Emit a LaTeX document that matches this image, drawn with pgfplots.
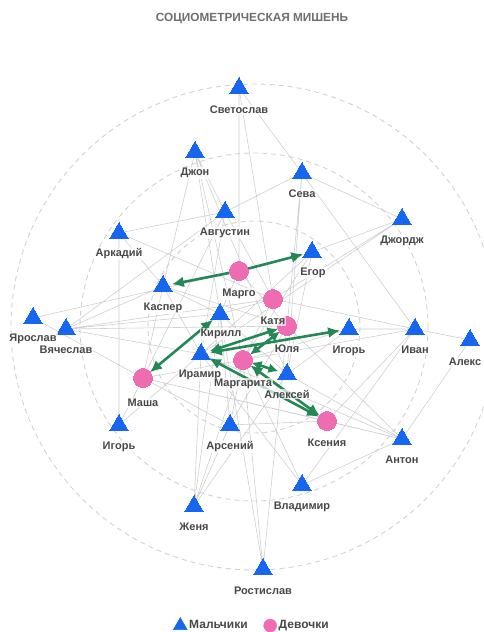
\documentclass[border=0pt]{standalone}
\usepackage{fontspec}
\setmainfont{Liberation Sans}
\usepackage{pgfplots}
\pgfplotsset{compat=1.18}
\usetikzlibrary{arrows.meta}
\definecolor{boyblue}{RGB}{22,102,240}
\definecolor{girlpink}{RGB}{240,108,178}
\definecolor{linkgreen}{RGB}{36,135,86}
\definecolor{edgegray}{RGB}{208,208,208}
\definecolor{ringgray}{RGB}{210,210,210}
\definecolor{labelgray}{RGB}{72,72,72}
\definecolor{titlegray}{RGB}{110,110,110}
\begin{document}
\begin{tikzpicture}
\begin{axis}[
  scale only axis, width=484pt, height=632pt,
  xmin=0, xmax=484, ymin=0, ymax=632, y dir=reverse,
  axis lines=none, xtick=\empty, ytick=\empty, clip=true,
  legend columns=2,
  legend style={at={(axis cs:252,625)}, anchor=center, draw=none, fill=none,
    font=\fontsize{12}{13}\selectfont\bfseries, text=labelgray,
    /tikz/every even column/.append style={column sep=14pt}},
  legend cell align=left,
]
% dashed rings
\draw[ringgray, line width=0.9pt, dash pattern=on 5pt off 4pt] (axis cs:254,327) circle[radius=243];
\draw[ringgray, line width=0.9pt, dash pattern=on 5pt off 4pt] (axis cs:254,327) circle[radius=174];
\draw[ringgray, line width=0.9pt, dash pattern=on 5pt off 4pt] (axis cs:254,327) circle[radius=106];
% gray links
\addplot[edgegray, line width=0.6pt, unbounded coords=jump, forget plot] coordinates {
(239,88) (302,173) (nan,nan)
(239,88) (239,271) (nan,nan)
(239,88) (273,299) (nan,nan)
(195,152) (163,286) (nan,nan)
(195,152) (220,314) (nan,nan)
(195,152) (243,360) (nan,nan)
(195,152) (287,374) (nan,nan)
(302,173) (402,219) (nan,nan)
(302,173) (225,212) (nan,nan)
(302,173) (287,326) (nan,nan)
(302,173) (287,374) (nan,nan)
(302,173) (415,329) (nan,nan)
(225,212) (119,233) (nan,nan)
(225,212) (273,299) (nan,nan)
(225,212) (201,354) (nan,nan)
(225,212) (143,378) (nan,nan)
(402,219) (312,252) (nan,nan)
(402,219) (201,354) (nan,nan)
(402,219) (273,299) (nan,nan)
(119,233) (119,425) (nan,nan)
(119,233) (163,286) (nan,nan)
(119,233) (273,299) (nan,nan)
(33,318) (239,271) (nan,nan)
(33,318) (143,378) (nan,nan)
(66,329) (225,212) (nan,nan)
(66,329) (163,286) (nan,nan)
(66,329) (220,314) (nan,nan)
(66,329) (287,326) (nan,nan)
(66,329) (201,354) (nan,nan)
(66,329) (273,299) (nan,nan)
(119,425) (143,378) (nan,nan)
(119,425) (201,354) (nan,nan)
(143,378) (327,421) (nan,nan)
(143,378) (402,439) (nan,nan)
(143,378) (230,425) (nan,nan)
(230,425) (327,421) (nan,nan)
(230,425) (220,314) (nan,nan)
(230,425) (243,360) (nan,nan)
(230,425) (287,326) (nan,nan)
(194,506) (201,354) (nan,nan)
(194,506) (220,314) (nan,nan)
(194,506) (230,425) (nan,nan)
(194,506) (287,374) (nan,nan)
(194,506) (243,360) (nan,nan)
(263,569) (220,314) (nan,nan)
(263,569) (243,360) (nan,nan)
(263,569) (287,326) (nan,nan)
(302,485) (402,439) (nan,nan)
(302,485) (415,329) (nan,nan)
(302,485) (243,360) (nan,nan)
(302,485) (201,354) (nan,nan)
(402,439) (470,340) (nan,nan)
(402,439) (287,374) (nan,nan)
(402,439) (287,326) (nan,nan)
(402,439) (201,354) (nan,nan)
(415,329) (327,421) (nan,nan)
(415,329) (243,360) (nan,nan)
(349,329) (415,329) (nan,nan)
(415,329) (470,340) (nan,nan)
(273,299) (415,329) (nan,nan)
(163,286) (220,314) (nan,nan)
(163,286) (287,326) (nan,nan)
(163,286) (201,354) (nan,nan)
(239,271) (220,314) (nan,nan)
(273,299) (220,314) (nan,nan)
(312,252) (243,360) (nan,nan)
(312,252) (201,354) (nan,nan)
(312,252) (287,374) (nan,nan)
(239,271) (287,326) (nan,nan)
(273,299) (243,360) (nan,nan)
(349,329) (243,360) (nan,nan)
(349,329) (287,374) (nan,nan)
(220,314) (287,374) (nan,nan)
(195,152) (225,212) (nan,nan)
(327,421) (402,439) (nan,nan)
(143,378) (243,360) (nan,nan)
(163,286) (143,378)
};
% mutual choices (green arrows)
\pgfplotsset{gl/.style={linkgreen, line width=2.6pt, forget plot, shorten >=9pt, shorten <=9pt}}
\addplot[gl, -{Latex[length=12pt,width=11pt]}] coordinates {(239,271) (163,286)};
\addplot[gl, -{Latex[length=12pt,width=11pt]}] coordinates {(239,271) (312,252)};
\addplot[gl, {Latex[length=12pt,width=11pt]}-{Latex[length=12pt,width=11pt]}] coordinates {(220,314) (143,378)};
\addplot[gl, {Latex[length=11pt,width=10pt]}-{Latex[length=11pt,width=10pt]}] coordinates {(201,354) (287,326)};
\addplot[gl, {Latex[length=12pt,width=11pt]}-{Latex[length=12pt,width=11pt]}] coordinates {(201,354) (349,329)};
\addplot[gl, {Latex[length=10pt,width=10pt]}-{Latex[length=10pt,width=10pt]}] coordinates {(243,360) (287,326)};
\addplot[gl, {Latex[length=10pt,width=10pt]}-{Latex[length=10pt,width=10pt]}] coordinates {(243,360) (287,374)};
\addplot[gl, {Latex[length=12pt,width=11pt]}-{Latex[length=12pt,width=11pt]}] coordinates {(243,360) (327,421)};
\addplot[gl, {Latex[length=12pt,width=11pt]}-{Latex[length=12pt,width=11pt]}] coordinates {(201,354) (327,421)};
% boys
\addplot[only marks, mark=triangle*, mark size=10.5pt, forget plot,
  mark options={draw=boyblue, fill=boyblue, line width=0pt}] table {
x y
239 88
195 152
302 173
225 212
119 233
402 219
312 252
163 286
220 314
349 329
415 329
470 340
33 318
66 329
201 354
287 374
119 425
230 425
402 439
302 485
194 506
263 569
};
% girls
\addplot[only marks, mark=*, mark size=9.5pt, forget plot,
  mark options={draw=girlpink, fill=girlpink, line width=0pt}] table {
x y
239 271
273 299
287 326
243 360
143 378
327 421
};
% labels
\addplot[draw=none, mark=none, forget plot, nodes near coords, point meta=explicit symbolic,
  nodes near coords style={anchor=center, font=\fontsize{11}{12}\selectfont\bfseries,
    text=labelgray, fill=white, fill opacity=0.7, text opacity=1, inner sep=1pt}]
  table[x=x, y=y, meta=lab] {
x y lab
239 110 Светослав
195 173 Джон
302 194 Сева
225 233 Августин
119 254 Аркадий
402 241 Джордж
313 273 Егор
163 308 Каспер
221 334 Кирилл
349 351 Игорь
415 350 Иван
465 362 Алекс
33 339 Ярослав
66 350 Вячеслав
200 375 Ирамир
287 394 Алексей
119 447 Игорь
230 447 Арсений
402 460 Антон
302 507 Владимир
194 527 Женя
263 591 Ростислав
239 294 Марго
273 321 Катя
287 349 Юля
243 384 Маргарита
143 403 Маша
327 443 Ксения
};
\node[font=\fontsize{11.8}{13}\selectfont\bfseries, text=titlegray] at (axis cs:252,19) {СОЦИОМЕТРИЧЕСКАЯ МИШЕНЬ};
\addlegendimage{only marks, mark=triangle*, mark size=8pt, mark options={draw=boyblue, fill=boyblue}}
\addlegendentry{Мальчики}
\addlegendimage{only marks, mark=*, mark size=6.5pt, mark options={draw=girlpink, fill=girlpink}}
\addlegendentry{Девочки}
\end{axis}
\pgfresetboundingbox
\useasboundingbox (current axis.south west) rectangle (current axis.north east);
\end{tikzpicture}
\end{document}
